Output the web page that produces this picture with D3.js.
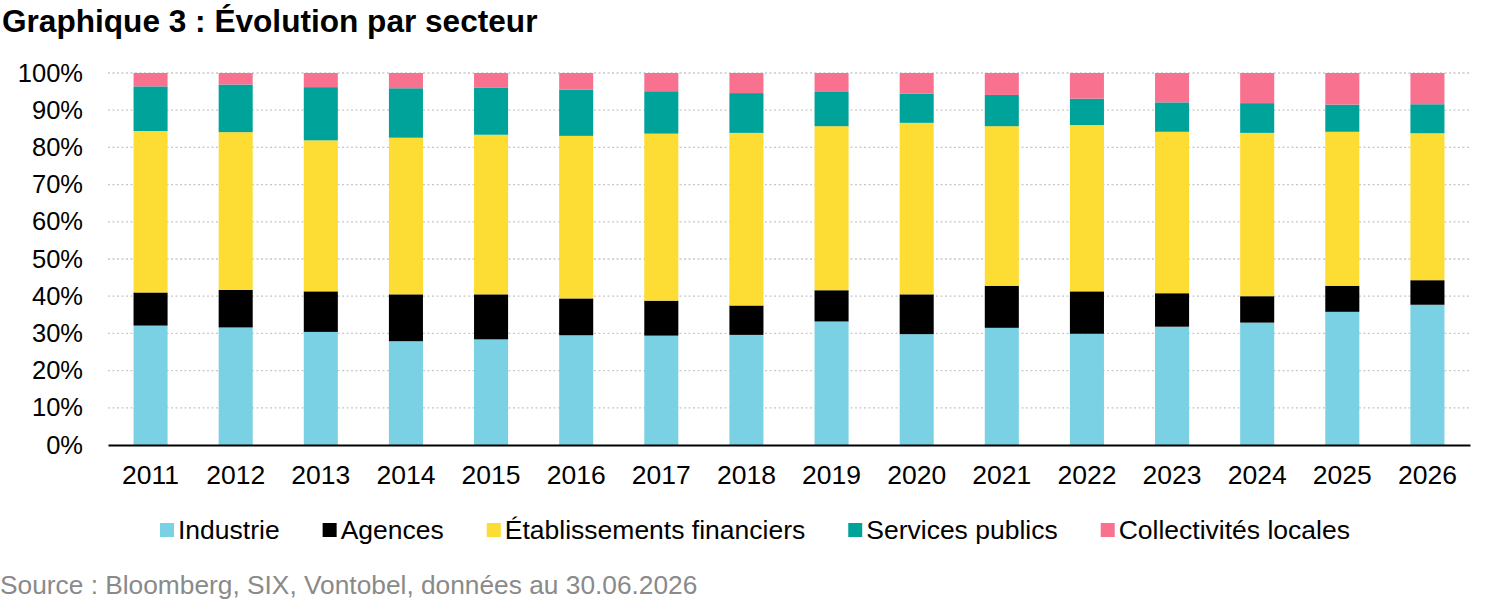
<!DOCTYPE html>
<html>
<head>
<meta charset="utf-8">
<script src="https://cdn.jsdelivr.net/npm/d3@7"></script>
<style>
  body { margin: 0; background: #fff; }
  text { font-family: "Liberation Sans", Arial, sans-serif; }
</style>
</head>
<body>
<div id="chart"></div>
<script>
// years on the x axis
var years = ["2011", "2012", "2013", "2014", "2015", "2016", "2017", "2018",
             "2019", "2020", "2021", "2022", "2023", "2024", "2025", "2026"];

// share of each sector, in %
var industrie     = [32.1, 31.6, 30.4, 27.9, 28.4, 29.5, 29.4, 29.6, 33.2, 29.8, 31.5, 29.9, 31.8, 32.9, 35.8, 37.7];
var agences       = [8.9, 10.1, 10.9, 12.6, 12.1, 9.9, 9.4, 7.9, 8.4, 10.7, 11.3, 11.4, 9.0, 7.1, 7.0, 6.6];
var financiers    = [43.4, 42.4, 40.6, 42.1, 42.9, 43.7, 44.9, 46.4, 44.1, 46.1, 42.9, 44.7, 43.4, 43.9, 41.4, 39.5];
var services      = [12.0, 12.8, 14.3, 13.3, 12.6, 12.4, 11.4, 10.7, 9.2, 7.8, 8.4, 7.1, 7.9, 8.0, 7.3, 7.8];
var collectivites = [3.6, 3.1, 3.8, 4.1, 4.0, 4.5, 4.9, 5.4, 5.1, 5.6, 5.9, 6.9, 7.9, 8.1, 8.5, 8.4];

var seriesNames = ["Industrie", "Agences", "Établissements financiers", "Services publics", "Collectivités locales"];
var seriesValues = [industrie, agences, financiers, services, collectivites];
var colors = ["#79d1e3", "#000000", "#fddc33", "#00a39a", "#f8728f"];

var yTicks = [0, 10, 20, 30, 40, 50, 60, 70, 80, 90, 100];

var pwidth = 1500, pheight = 601;
var margin = {top: 73, right: 30, bottom: 156, left: 108},
    width = pwidth - margin.left - margin.right,
    height = pheight - margin.top - margin.bottom;

var svg = d3.select("#chart").append("svg")
    .attr("width", pwidth)
    .attr("height", pheight);

// title
svg.append("text")
    .attr("x", 2).attr("y", 32)
    .attr("font-size", 31.6)
    .attr("font-weight", "bold")
    .attr("fill", "#000")
    .text("Graphique 3 : Évolution par secteur");

var g = svg.append("g")
    .attr("transform", "translate(" + margin.left + "," + margin.top + ")");

var xScale = d3.scaleBand()
    .domain(years)
    .range([0, width])
    .paddingInner(0.6)
    .paddingOuter(0.3);

var yScale = d3.scaleLinear()
    .domain([0, 100])
    .range([height, 0]);

// dotted grid lines
g.append("g")
    .selectAll("line")
    .data(yTicks.filter(function(d) { return d > 0; }))
    .enter().append("line")
    .attr("x1", 0).attr("x2", width)
    .attr("y1", function(d) { return yScale(d); })
    .attr("y2", function(d) { return yScale(d); })
    .attr("stroke", "#c8c8c8")
    .attr("stroke-width", 1.3)
    .attr("stroke-dasharray", "2,2.5");

// y axis labels
var yAxis = g.append("g")
    .call(d3.axisLeft(yScale).tickValues(yTicks).tickSize(0).tickPadding(25)
        .tickFormat(function(d) { return d + "%"; }));
yAxis.select(".domain").remove();
yAxis.selectAll("text")
    .attr("font-size", 25.5)
    .attr("fill", "#000")
    .attr("font-family", "Liberation Sans, Arial, sans-serif");

// stack the data
var table = years.map(function(y, i) {
    var row = {year: y};
    seriesNames.forEach(function(n, j) { row[n] = seriesValues[j][i]; });
    return row;
});
var stacked = d3.stack().keys(seriesNames)(table);

g.selectAll("g.layer")
    .data(stacked)
    .enter().append("g")
    .attr("class", "layer")
    .attr("fill", function(d, i) { return colors[i]; })
    .selectAll("rect")
    .data(function(d) { return d; })
    .enter().append("rect")
    .attr("x", function(d) { return xScale(d.data.year); })
    .attr("width", xScale.bandwidth())
    .attr("y", function(d) { return yScale(d[1]); })
    .attr("height", function(d) { return yScale(d[0]) - yScale(d[1]); });

// x axis
var xAxis = g.append("g")
    .attr("transform", "translate(0," + height + ")")
    .call(d3.axisBottom(xScale).tickSize(0).tickPadding(20));
xAxis.select(".domain")
    .attr("stroke", "#000")
    .attr("stroke-width", 2);
xAxis.selectAll("text")
    .attr("font-size", 26.5)
    .attr("fill", "#000")
    .attr("font-family", "Liberation Sans, Arial, sans-serif");

// legend
var legend = svg.append("g").attr("transform", "translate(160,530)");
var lx = 0;
seriesNames.forEach(function(n, i) {
    var item = legend.append("g").attr("transform", "translate(" + lx + ",0)");
    item.append("rect")
        .attr("x", 0).attr("y", -7)
        .attr("width", 14).attr("height", 14)
        .attr("fill", colors[i]);
    var t = item.append("text")
        .attr("x", 18).attr("y", 0)
        .attr("dy", "0.35em")
        .attr("font-size", 26.5)
        .attr("fill", "#000")
        .text(n);
    lx += 18 + t.node().getComputedTextLength() + 43;
});

// source
svg.append("text")
    .attr("x", 0).attr("y", 594)
    .attr("font-size", 26.3)
    .attr("fill", "#8a8a8a")
    .text("Source : Bloomberg, SIX, Vontobel, données au 30.06.2026");
</script>
</body>
</html>
